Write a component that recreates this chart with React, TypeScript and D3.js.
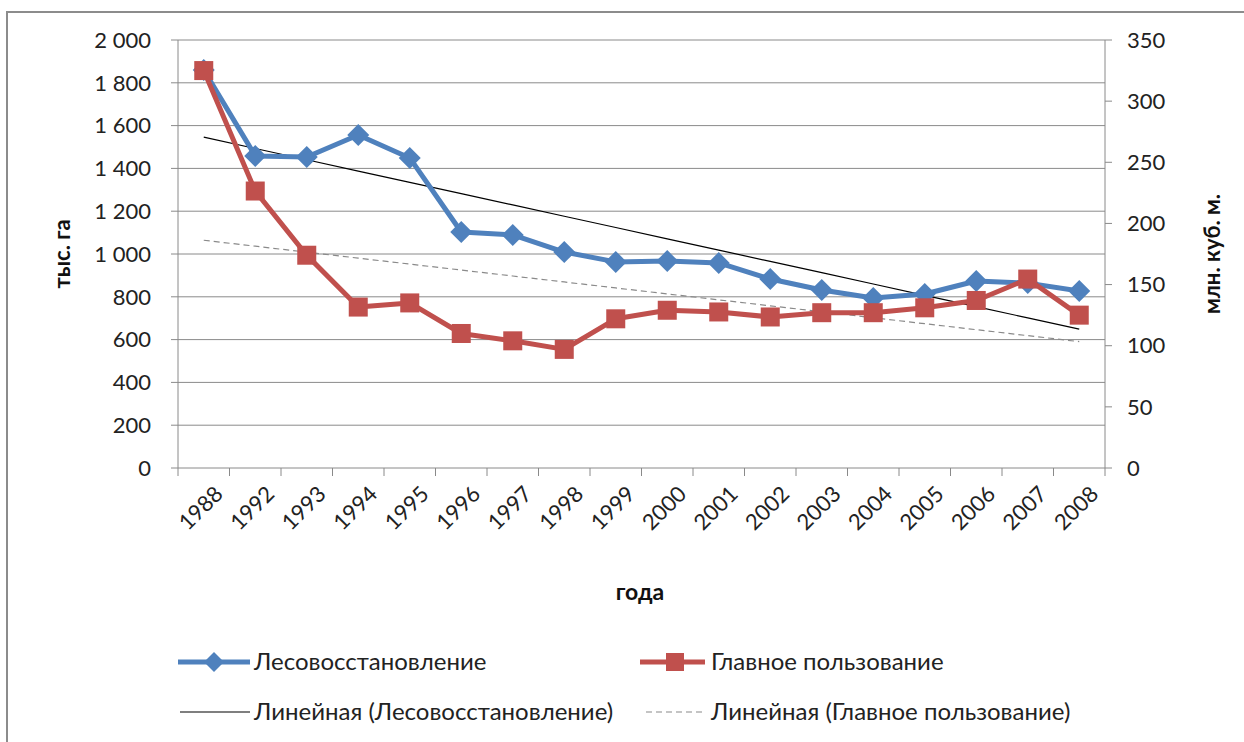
import React from "react";
import * as d3 from "d3";

const years = ["1988", "1992", "1993", "1994", "1995", "1996", "1997", "1998", "1999", "2000", "2001", "2002", "2003", "2004", "2005", "2006", "2007", "2008"];
// тыс. га (left axis)
const reforest = [1860, 1458, 1453, 1556, 1449, 1103, 1089, 1009, 963, 967, 958, 883, 832, 794, 813, 874, 864, 827];
// млн. куб. м (right axis)
const mainUse = [325, 226.5, 174, 131.6, 135, 110, 104, 97, 122, 129, 127.6, 123.5, 127, 127, 131, 137, 154.5, 125];
const leftTicks = [0, 200, 400, 600, 800, 1000, 1200, 1400, 1600, 1800, 2000];
const rightTicks = [0, 50, 100, 150, 200, 250, 300, 350];

const W = 1244;
const H = 742;
const plot = { left: 178, right: 1105, top: 40, bottom: 468 };
const font = "Lato, 'Open Sans', sans-serif";
const blue = "#4F81BD";
const red = "#C0504D";

// линейный тренд как в Excel: x = 1..n
function trend(vals: number[]) {
  const xs = vals.map((_, i) => i + 1);
  const mx = d3.mean(xs) as number;
  const my = d3.mean(vals) as number;
  const sxy = d3.sum(xs, (x, i) => (x - mx) * (vals[i] - my));
  const sxx = d3.sum(xs, x => (x - mx) * (x - mx));
  const b = sxy / sxx;
  return xs.map(x => my + b * (x - mx));
}

const fmt = (v: number) => (v >= 1000 ? `${Math.floor(v / 1000)} ${String(v % 1000).padStart(3, "0")}` : String(v));

export default function App() {
  const band = d3.scaleBand().domain(years).range([plot.left, plot.right]).padding(0);
  const cx = (y: string) => (band(y) as number) + band.bandwidth() / 2;
  const yL = d3.scaleLinear().domain([0, 2000]).range([plot.bottom, plot.top]);
  const yR = d3.scaleLinear().domain([0, 350]).range([plot.bottom, plot.top]);

  const lineL = d3.line<number>().x((_, i) => cx(years[i])).y(d => yL(d));
  const lineR = d3.line<number>().x((_, i) => cx(years[i])).y(d => yR(d));
  const trL = trend(reforest);
  const trR = trend(mainUse);

  const boundaries = years.map(y => band(y) as number).concat([plot.right]);

  return (
    <svg width={W} height={H} style={{ position: "absolute", left: 0, top: 0, background: "#fff" }} fontFamily={font}>
      <rect x={0} y={0} width={W} height={H} fill="#fff" />
      <rect x={7} y={12} width={W + 20} height={H + 20} fill="#fff" stroke="#8c8c8c" strokeWidth={2} />

      {/* grid */}
      {leftTicks.slice(1).map(t => (
        <line key={t} x1={plot.left} x2={plot.right} y1={yL(t)} y2={yL(t)} stroke="#8a8a8a" strokeWidth={1} />
      ))}

      {/* axes */}
      <line x1={plot.left} x2={plot.left} y1={plot.top} y2={plot.bottom} stroke="#8a8a8a" />
      <line x1={plot.right} x2={plot.right} y1={plot.top} y2={plot.bottom} stroke="#8a8a8a" />
      <line x1={plot.left} x2={plot.right} y1={plot.bottom} y2={plot.bottom} stroke="#8a8a8a" />
      {leftTicks.map(t => (
        <g key={t}>
          <line x1={plot.left - 7} x2={plot.left} y1={yL(t)} y2={yL(t)} stroke="#8a8a8a" />
          <text x={151} y={yL(t)} dy="0.35em" textAnchor="end" fontSize={22} fill="#222">{fmt(t)}</text>
        </g>
      ))}
      {rightTicks.map(t => (
        <g key={t}>
          <line x1={plot.right} x2={plot.right + 7} y1={yR(t)} y2={yR(t)} stroke="#8a8a8a" />
          <text x={1127} y={yR(t)} dy="0.35em" textAnchor="start" fontSize={22} fill="#222">{t}</text>
        </g>
      ))}
      {boundaries.map((b, i) => (
        <line key={i} x1={b} x2={b} y1={plot.bottom} y2={plot.bottom + 8} stroke="#8a8a8a" />
      ))}
      {years.map(y => (
        <text key={y} transform={`translate(${cx(y) + 15},${plot.bottom + 22}) rotate(-45)`} textAnchor="end" dy="0.35em" fontSize={22} fill="#222">{y}</text>
      ))}

      {/* axis titles */}
      <text transform={`translate(62,${(plot.top + plot.bottom) / 2}) rotate(-90)`} textAnchor="middle" dy="0.35em" fontSize={22} fontWeight="bold" fill="#111">тыс. га</text>
      <text transform={`translate(1212,${(plot.top + plot.bottom) / 2}) rotate(-90)`} textAnchor="middle" dy="0.35em" fontSize={22} fontWeight="bold" fill="#111">млн. куб. м.</text>
      <text x={640} y={592} textAnchor="middle" dy="0.35em" fontSize={23} fontWeight="bold" fill="#111">года</text>

      {/* trend lines */}
      <path d={lineL(trL) as string} fill="none" stroke="#000" strokeWidth={1.2} />
      <path d={lineR(trR) as string} fill="none" stroke="#8a8a8a" strokeWidth={1.2} strokeDasharray="6,4" />

      {/* series */}
      <path d={lineL(reforest) as string} fill="none" stroke={blue} strokeWidth={5} strokeLinejoin="round" />
      {reforest.map((v, i) => {
        const x = cx(years[i]);
        const y = yL(v);
        return <path key={i} d={`M${x},${y - 11}L${x + 11},${y}L${x},${y + 11}L${x - 11},${y}Z`} fill={blue} />;
      })}
      <path d={lineR(mainUse) as string} fill="none" stroke={red} strokeWidth={5} strokeLinejoin="round" />
      {mainUse.map((v, i) => (
        <rect key={i} x={cx(years[i]) - 9.5} y={yR(v) - 9.5} width={19} height={19} fill={red} />
      ))}

      {/* legend */}
      <line x1={178} x2={250} y1={662} y2={662} stroke={blue} strokeWidth={5} />
      <path d="M214,652L224,662L214,672L204,662Z" fill={blue} />
      <text x={254} y={662} dy="0.35em" fontSize={24} fill="#222">Лесовосстановление</text>
      <line x1={640} x2={705} y1={662} y2={662} stroke={red} strokeWidth={5} />
      <rect x={666} y={653} width={18} height={18} fill={red} />
      <text x={711} y={662} dy="0.35em" fontSize={24} fill="#222">Главное пользование</text>

      <line x1={180} x2={250} y1={712} y2={712} stroke="#000" strokeWidth={1.2} />
      <text x={254} y={712} dy="0.35em" fontSize={24} fill="#222">Линейная (Лесовосстановление)</text>
      <line x1={646} x2={705} y1={712} y2={712} stroke="#8a8a8a" strokeWidth={1.2} strokeDasharray="6,4" />
      <text x={711} y={712} dy="0.35em" fontSize={24} fill="#222">Линейная (Главное пользование)</text>
    </svg>
  );
}
